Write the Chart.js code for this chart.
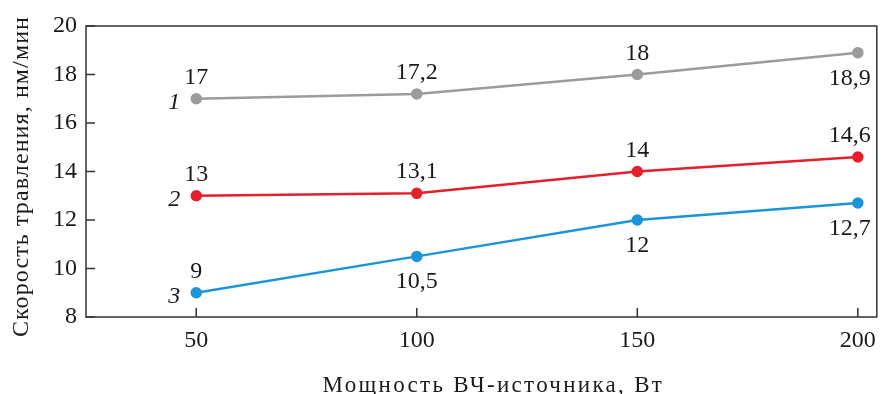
<!DOCTYPE html>
<html>
<head>
<meta charset="utf-8">
<title>Скорость травления</title>
<script src="https://cdn.jsdelivr.net/npm/chart.js@4.4.1/dist/chart.umd.min.js"></script>
<style>
  html, body { margin: 0; padding: 0; background: #fff; }
  #wrap { width: 885px; height: 394px; }
</style>
</head>
<body>
<div id="wrap"><canvas id="etchChart"></canvas></div>
<script>
// RF power, W
const power = [50, 100, 150, 200];
// etch rate, nm/min
const rate1 = [17, 17.2, 18, 18.9];
const rate2 = [13, 13.1, 14, 14.6];
const rate3 = [9, 10.5, 12, 12.7];
const xTicks = [50, 100, 150, 200];
const yTicks = [8, 10, 12, 14, 16, 18, 20];
const xTitle = "Мощность ВЧ-источника, Вт";
const yTitle = "Скорость травления, нм/мин";

const serif = "'Liberation Serif', 'Times New Roman', serif";
const ink = "#1a1a1a";

function points(ys) {
    return power.map((x, i) => ({ x: x, y: ys[i] }));
}

function fmt(v) {
    return String(v).replace(".", ",");
}

// frame around the plot, inward ticks, value labels, curve numbers, axis titles
const decorations = {
    id: "decorations",
    afterDatasetsDraw(chart) {
        const ctx = chart.ctx;
        const area = chart.chartArea;
        const xs = chart.scales.x;
        const ys = chart.scales.y;

        ctx.save();
        ctx.strokeStyle = "#333333";
        ctx.lineWidth = 1.5;
        ctx.strokeRect(area.left, area.top, area.right - area.left, area.bottom - area.top);

        ctx.beginPath();
        yTicks.forEach(v => {
            const py = ys.getPixelForValue(v);
            ctx.moveTo(area.left, py);
            ctx.lineTo(area.left + 9, py);
        });
        xTicks.forEach(v => {
            const px = xs.getPixelForValue(v);
            ctx.moveTo(px, area.bottom);
            ctx.lineTo(px, area.bottom - 9);
        });
        ctx.stroke();

        ctx.fillStyle = ink;
        ctx.textBaseline = "alphabetic";
        chart.data.datasets.forEach((ds, di) => {
            const meta = chart.getDatasetMeta(di);
            ctx.font = "24px " + serif;
            ctx.textAlign = "center";
            meta.data.forEach((pt, i) => {
                const text = fmt(ds.data[i].y);
                const w = ctx.measureText(text).width;
                let cx = pt.x;
                if (cx + w / 2 > area.right - 6) cx = area.right - 6 - w / 2;
                const cy = ds.below[i] ? pt.y + 32 : pt.y - 15;
                ctx.fillText(text, cx, cy);
            });
            // curve number left of the first point
            const first = meta.data[0];
            ctx.font = "italic 24px " + serif;
            ctx.textAlign = "right";
            ctx.fillText(ds.label, first.x - 16, first.y + 10);
        });

        // axis titles (set a little wider than the default tracking)
        ctx.textAlign = "center";
        ctx.font = "23px " + serif;
        ctx.letterSpacing = "2.3px";
        ctx.fillText(xTitle, (area.left + area.right) / 2 + 12, chart.height - 2);

        ctx.font = "24px " + serif;
        ctx.letterSpacing = "1.1px";
        ctx.translate(28, (area.top + area.bottom) / 2 + 5);
        ctx.rotate(-Math.PI / 2);
        ctx.fillText(yTitle, 0, 0);
        ctx.restore();
    }
};

const lineStyle = { borderWidth: 2.5, pointRadius: 4.5, pointHoverRadius: 4.5, tension: 0, fill: false };

new Chart(document.getElementById("etchChart"), {
    type: "line",
    data: {
        datasets: [
            Object.assign({ label: "1", data: points(rate1), borderColor: "#9b9b9b", backgroundColor: "#9b9b9b",
                below: [false, false, false, true] }, lineStyle),
            Object.assign({ label: "2", data: points(rate2), borderColor: "#e6202a", backgroundColor: "#e6202a",
                below: [false, false, false, false] }, lineStyle),
            Object.assign({ label: "3", data: points(rate3), borderColor: "#1b95d8", backgroundColor: "#1b95d8",
                below: [false, true, true, true] }, lineStyle)
        ]
    },
    options: {
        responsive: true,
        maintainAspectRatio: false,
        animation: false,
        layout: { padding: { top: 26, right: 2, left: 0, bottom: 0 } },
        plugins: {
            legend: { display: false },
            tooltip: { enabled: false }
        },
        scales: {
            x: {
                type: "linear",
                min: 25,
                max: 204.3,
                afterBuildTicks: axis => { axis.ticks = xTicks.map(v => ({ value: v })); },
                afterFit: axis => { axis.height = 77; },
                grid: { display: false, drawTicks: false },
                border: { display: false },
                ticks: { color: ink, padding: 9, maxRotation: 0, font: { family: serif, size: 24 } }
            },
            y: {
                min: 8,
                max: 20,
                afterBuildTicks: axis => { axis.ticks = yTicks.map(v => ({ value: v })); },
                afterFit: axis => { axis.width = 86; },
                grid: { display: false, drawTicks: false },
                border: { display: false },
                ticks: { color: ink, padding: 9, font: { family: serif, size: 24 } }
            }
        }
    },
    plugins: [decorations]
});
</script>
</body>
</html>
